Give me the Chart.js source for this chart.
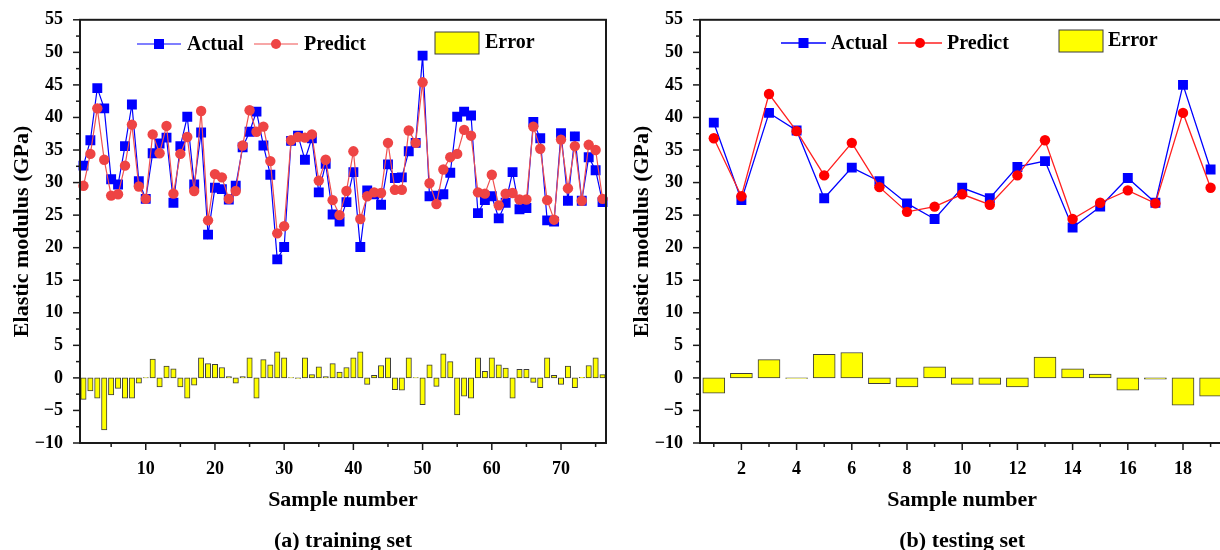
<!DOCTYPE html>
<html>
<head>
<meta charset="utf-8">
<script src="https://cdn.jsdelivr.net/npm/chart.js@4.4.1/dist/chart.umd.min.js"></script>
<style>
  html, body { margin: 0; padding: 0; background: #fff; overflow: hidden; }
  #wrap { position: relative; width: 1220px; height: 550px; overflow: hidden; }
  canvas { position: absolute; top: 0; }
  #trainChart { left: 0; }
  #testChart { left: 620px; }
</style>
</head>
<body>
<div id="wrap">
  <canvas id="trainChart" width="620" height="550"></canvas>
  <canvas id="testChart" width="620" height="550"></canvas>
</div>
<script>
// ---- data ----
const trainSamples = Array.from({ length: 76 }, (_, i) => i + 1);
const trainActual = [
  32.6, 36.5, 44.5, 41.4, 30.5, 29.7, 35.6, 42.0, 30.2, 27.5,
  34.5, 36.0, 36.9, 26.9, 35.6, 40.1, 29.7, 37.7, 22.0, 29.2,
  29.0, 27.4, 29.5, 35.4, 37.8, 40.9, 35.7, 31.2, 18.2, 20.1,
  36.4, 37.2, 33.5, 36.8, 28.5, 32.9, 25.1, 24.0, 27.0, 31.6,
  20.1, 28.8, 28.2, 26.6, 32.8, 30.7, 30.8, 34.8, 36.1, 49.5,
  27.9, 28.0, 28.2, 31.5, 40.1, 40.9, 40.3, 25.3, 27.3, 27.9,
  24.5, 26.9, 31.6, 25.9, 26.1, 39.3, 36.8, 24.2, 24.0, 37.6,
  27.2, 37.1, 27.2, 33.9, 31.9, 27.0
];
const trainPredict = [
  29.5, 34.4, 41.4, 33.5, 28.0, 28.2, 32.6, 38.9, 29.4, 27.5,
  37.4, 34.5, 38.7, 28.3, 34.4, 37.0, 28.7, 41.0, 24.2, 31.3,
  30.8, 27.5, 28.7, 35.7, 41.1, 37.8, 38.6, 33.3, 22.2, 23.3,
  36.5, 37.0, 36.9, 37.4, 30.3, 33.5, 27.3, 25.0, 28.7, 34.8,
  24.4, 27.9, 28.5, 28.4, 36.1, 28.9, 28.9, 38.0, 36.1, 45.4,
  29.9, 26.7, 32.0, 33.9, 34.4, 38.1, 37.2, 28.5, 28.3, 31.2,
  26.5, 28.3, 28.4, 27.4, 27.4, 38.6, 35.2, 27.3, 24.3, 36.6,
  29.1, 35.6, 27.2, 35.8, 35.0, 27.5
];
const trainError = [
  -3.3, -2.0, -3.1, -8.0, -2.6, -1.6, -3.1, -3.1, -0.8, 0.05,
  2.9, -1.4, 1.8, 1.4, -1.4, -3.1, -1.1, 3.1, 2.2, 2.1,
  1.6, 0.2, -0.8, 0.2, 3.1, -3.1, 2.8, 2.0, 4.0, 3.1,
  0.05, -0.1, 3.1, 0.5, 1.7, 0.2, 2.2, 0.9, 1.6, 3.1,
  4.0, -1.0, 0.4, 1.9, 3.1, -1.8, -1.9, 3.1, 0.05, -4.1,
  2.0, -1.3, 3.7, 2.5, -5.7, -2.8, -3.1, 3.1, 1.0, 3.1,
  2.0, 1.5, -3.1, 1.3, 1.3, -0.7, -1.5, 3.1, 0.4, -1.0,
  1.8, -1.5, 0.1, 1.9, 3.1, 0.5
];

const testSamples = Array.from({ length: 19 }, (_, i) => i + 1);
const testActual = [
  39.2, 27.3, 40.7, 38.0, 27.6, 32.3, 30.2, 26.8, 24.4, 29.2,
  27.6, 32.4, 33.3, 23.1, 26.3, 30.7, 26.9, 45.0, 32.0
];
const testPredict = [
  36.8, 27.9, 43.6, 37.9, 31.1, 36.1, 29.3, 25.5, 26.3, 28.2,
  26.6, 31.1, 36.5, 24.4, 26.9, 28.8, 26.8, 40.7, 29.2
];
const testError = [
  -2.35, 0.7, 2.8, -0.1, 3.6, 3.9, -0.9, -1.4, 1.7, -1.0,
  -1.0, -1.4, 3.2, 1.4, 0.6, -1.9, -0.2, -4.2, -2.8
];

const FONT = "'Liberation Serif', 'Times New Roman', serif";
Chart.defaults.font.family = FONT;
Chart.defaults.font.weight = 'bold';
Chart.defaults.color = '#000';

// frame, Origin-style outward ticks, legend and caption
const decorPlugin = {
  id: 'decor',
  afterDatasetsDraw(chart, args, o) {
    const { ctx, chartArea: a, scales: { x, y } } = chart;
    const seg = (x0, y0, x1, y1) => { ctx.beginPath(); ctx.moveTo(x0, y0); ctx.lineTo(x1, y1); ctx.stroke(); };
    ctx.save();
    ctx.strokeStyle = '#1a1a1a';
    ctx.lineWidth = 1.5;
    for (let v = y.min; v <= y.max; v += 2.5) {
      const py = y.getPixelForValue(v);
      seg(a.left - (v % 5 === 0 ? 7 : 4), py, a.left, py);
    }
    x.getLabels().forEach((n, i) => {
      if (n % o.minor !== 0) return;
      const px = x.getPixelForValue(i);
      seg(px, a.bottom, px, a.bottom + (n % o.major === 0 ? 7 : 4));
    });
    ctx.lineWidth = 2;
    ctx.strokeRect(a.left, a.top, a.right - a.left, a.bottom - a.top);

    // legend
    const ds = chart.data.datasets;
    ctx.font = `bold 20px ${FONT}`;
    ctx.textBaseline = 'middle';
    ctx.textAlign = 'left';
    o.legend.forEach(it => {
      const d = ds[it.ds];
      if (d.type === 'line') {
        ctx.strokeStyle = d.borderColor;
        ctx.lineWidth = d.borderWidth;
        seg(it.x0, o.lineY, it.x1, o.lineY);
        const cx = (it.x0 + it.x1) / 2;
        ctx.fillStyle = d.pointBackgroundColor;
        if (d.pointStyle === 'rect') {
          ctx.fillRect(cx - 5, o.lineY - 5, 10, 10);
        } else {
          ctx.beginPath(); ctx.arc(cx, o.lineY, 5, 0, Math.PI * 2); ctx.fill();
        }
        ctx.fillStyle = '#000';
        ctx.fillText(d.label, it.tx, o.lineY + 1);
      } else {
        ctx.fillStyle = d.backgroundColor;
        ctx.fillRect(it.x0, o.boxY - 11, it.x1 - it.x0, 22);
        ctx.strokeStyle = d.borderColor;
        ctx.lineWidth = 1;
        ctx.strokeRect(it.x0, o.boxY - 11, it.x1 - it.x0, 22);
        ctx.fillStyle = '#000';
        ctx.fillText(d.label, it.tx, o.boxY);
      }
    });

    ctx.font = `bold 22px ${FONT}`;
    ctx.textAlign = 'center';
    ctx.fillText(o.caption, (a.left + a.right) / 2, o.captionY);
    ctx.restore();
  }
};

function makeChart(id, samples, actual, predict, error, cfg) {
  return new Chart(document.getElementById(id), {
    type: 'bar',
    data: {
      labels: samples,
      datasets: [
        {
          type: 'bar', label: 'Error', data: error, order: 3,
          backgroundColor: '#ffff00', borderColor: '#3c3c3c', borderWidth: 1,
          borderSkipped: false, barThickness: cfg.barThickness
        },
        {
          type: 'line', label: 'Actual', data: actual, order: 2,
          borderColor: '#0000ff', borderWidth: cfg.lineWidth,
          pointStyle: 'rect', pointRadius: 7, pointBorderWidth: 0,
          pointBackgroundColor: '#0000ff', pointBorderColor: '#0000ff'
        },
        {
          type: 'line', label: 'Predict', data: predict, order: 1,
          borderColor: cfg.red, borderWidth: cfg.lineWidth,
          pointStyle: 'circle', pointRadius: 5.2, pointBorderWidth: 0,
          pointBackgroundColor: cfg.redPoint, pointBorderColor: cfg.redPoint
        }
      ]
    },
    options: {
      responsive: false,
      animation: false,
      devicePixelRatio: 1,
      layout: { padding: { top: 19, right: cfg.padRight, left: 0, bottom: 0 } },
      plugins: {
        legend: { display: false },
        tooltip: { enabled: false },
        decor: {
          minor: cfg.minor, major: cfg.major, legend: cfg.legend,
          lineY: cfg.lineY, boxY: cfg.boxY, caption: cfg.caption, captionY: 541
        }
      },
      scales: {
        x: {
          type: 'category', offset: true,
          grid: { display: false }, border: { display: false },
          ticks: {
            autoSkip: false, maxRotation: 0, padding: 8,
            font: { size: 18, weight: 'bold' }, color: '#000',
            callback(v, i) { const n = samples[i]; return n % cfg.major === 0 ? String(n) : ''; }
          },
          title: {
            display: true, text: 'Sample number', color: '#000',
            font: { size: 22, weight: 'bold' }, padding: { top: 0, bottom: 36 }
          },
          afterFit(s) { s.height = 107; }
        },
        y: {
          min: -10, max: 55,
          grid: { display: false }, border: { display: false },
          ticks: {
            stepSize: 5, padding: 9, color: '#000',
            font: { size: 18, weight: 'bold' },
            callback: v => String(v).replace('-', '\u2212')
          },
          title: {
            display: true, text: 'Elastic modulus (GPa)', color: '#000',
            font: { size: 22, weight: 'bold' }, padding: { top: 9, bottom: 0 }
          },
          afterFit(s) { s.width = 80; }
        }
      }
    },
    plugins: [decorPlugin]
  });
}

makeChart('trainChart', trainSamples, trainActual, trainPredict, trainError, {
  barThickness: 5.4, lineWidth: 1.2, red: '#f05050', redPoint: '#ee4444',
  padRight: 14, minor: 5, major: 10, caption: '(a) training set',
  lineY: 44, boxY: 43,
  legend: [
    { ds: 1, x0: 137, x1: 181, tx: 187 },
    { ds: 2, x0: 254, x1: 298, tx: 304 },
    { ds: 0, x0: 435, x1: 479, tx: 485 }
  ]
});

makeChart('testChart', testSamples, testActual, testPredict, testError, {
  barThickness: 22, lineWidth: 1.3, red: '#ff2020', redPoint: '#ff0000',
  padRight: 15.6, minor: 1, major: 2, caption: '(b) testing set',
  lineY: 43, boxY: 41,
  legend: [
    { ds: 1, x0: 161, x1: 206, tx: 211 },
    { ds: 2, x0: 278, x1: 322, tx: 327 },
    { ds: 0, x0: 439, x1: 483, tx: 488 }
  ]
});
</script>
</body>
</html>
